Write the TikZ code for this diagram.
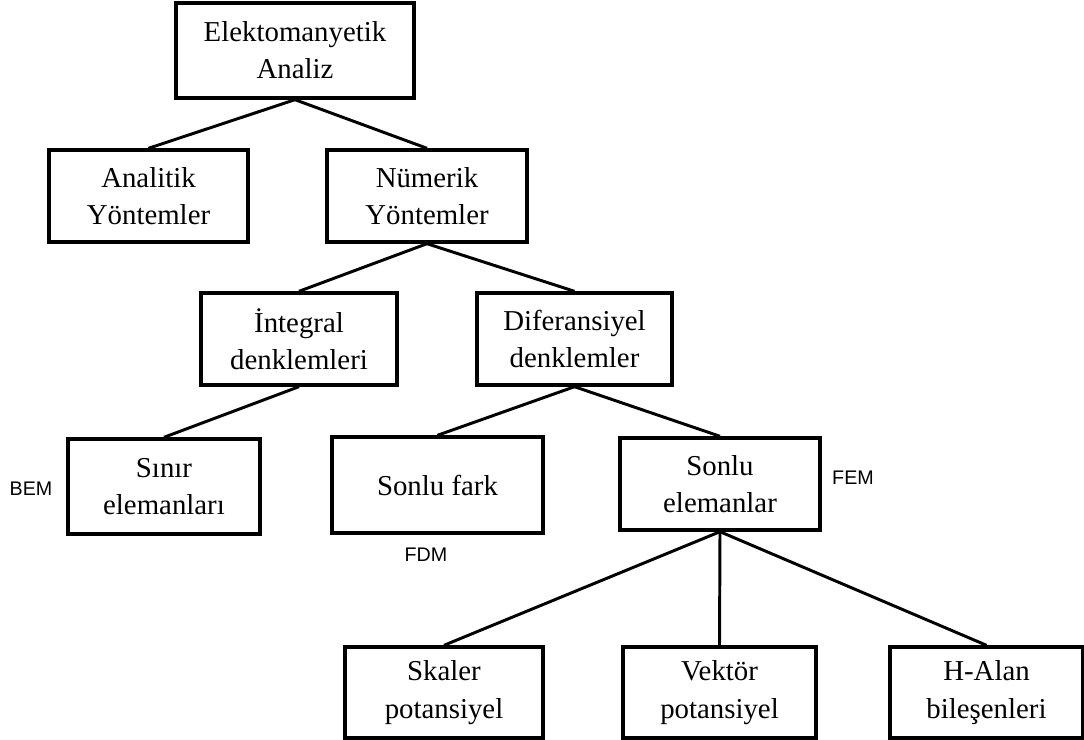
\documentclass[tikz,border=0pt]{standalone}
\usepackage{fontspec}
\setmainfont{Liberation Serif}
\newfontfamily\labelfont{Liberation Sans}
\usetikzlibrary{calc}

\begin{document}
\begin{tikzpicture}[x=0.025cm,y=-0.025cm,
  kutu/.style={draw,line width=2.4pt,align=center,inner sep=0pt,
    font=\fontsize{20.5}{26.5}\selectfont},
  bag/.style={line width=2.1pt},
  etiket/.style={font=\labelfont\fontsize{14}{16}\selectfont}]
\useasboundingbox (0,0) rectangle (1084,740);
%%%% first levels
\node[kutu,minimum width=5.95cm,minimum height=2.375cm] (EA) at (295,50.5) {Elektomanyetik\\Analiz};
\node[kutu,minimum width=4.975cm,minimum height=2.3cm] (AY) at (148.5,196) {Analitik\\Yöntemler};
\node[kutu,minimum width=5cm,minimum height=2.3cm] (NY) at (427,196) {Nümerik\\Yöntemler};
\node[kutu,minimum width=4.9cm,minimum height=2.3cm] (ID) at (299,339) {İntegral\\denklemleri};
\node[kutu,minimum width=4.875cm,minimum height=2.3cm] (DD) at (574.5,339) {Diferansiyel\\denklemler};
%%%% methods
\node[kutu,minimum width=4.8cm,minimum height=2.375cm] (SE) at (164,486.5) {Sınır\\elemanları};
\node[kutu,minimum width=5.275cm,minimum height=2.4cm] (SF) at (437.5,485) {Sonlu fark};
\node[kutu,minimum width=5cm,minimum height=2.3cm] (SL) at (720,484) {Sonlu\\elemanlar};
%
\node[kutu,minimum width=4.95cm,minimum height=2.275cm] (SP) at (444,692.5) {Skaler\\potansiyel};
\node[kutu,minimum width=4.825cm,minimum height=2.275cm] (VP) at (719.5,692.5) {Vektör\\potansiyel};
\node[kutu,minimum width=4.825cm,minimum height=2.275cm] (HB) at (986.5,692.5) {H-Alan\\bileşenleri};
%%%% abbreviations
\node[etiket] (BEM) at (31,489) {BEM};
\node[etiket] (FDM) at (426,555) {FDM};
\node[etiket] (FEM) at (853,478) {FEM};
%%%% tree
\draw[bag] (EA.south)--(AY.north);
\draw[bag] (EA.south)--(NY.north);
\draw[bag] (NY.south)--(ID.north);
\draw[bag] (NY.south)--(DD.north);
\draw[bag] (ID.south)--(SE.north);
\draw[bag] (DD.south)--(SF.north);
\draw[bag] (DD.south)--(SL.north);
%
\draw[bag] (SL.south)--(SP.north);
\draw[bag] (SL.south)--(VP.north);
\draw[bag] (SL.south)--(HB.north);
\end{tikzpicture}
\end{document}
